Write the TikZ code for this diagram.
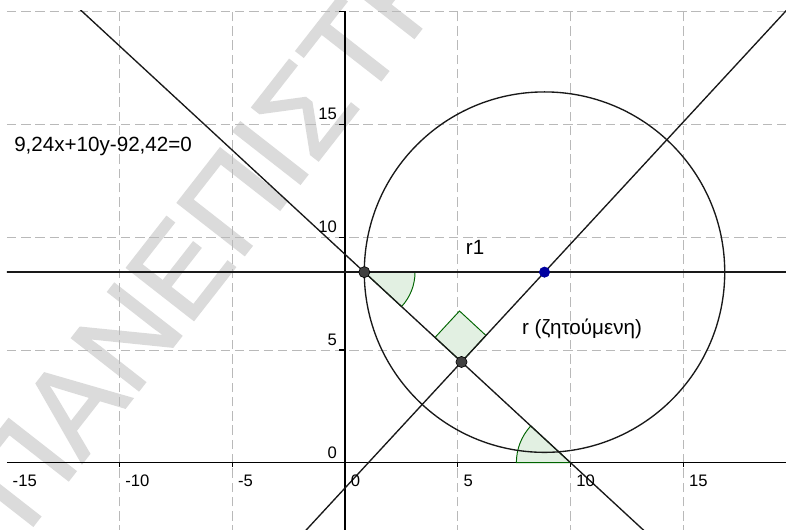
\documentclass[tikz,border=0pt]{standalone}
\usepackage{fontspec}
\setmainfont{Liberation Sans}
\newfontfamily\wmfont[FakeBold=1.5]{Liberation Sans}
\usetikzlibrary{calc}
\definecolor{gc}{RGB}{185,185,185}
\definecolor{ac}{RGB}{0,100,0}
\definecolor{af}{RGB}{226,240,226}
\definecolor{pc}{RGB}{64,64,64}
\definecolor{bc}{RGB}{0,0,160}
\definecolor{wm}{RGB}{219,219,219}
\tikzset{grd/.style={gc,line width=.5pt,dash pattern=on 6pt off 3pt},
 ax/.style={black,line width=.8pt},ln/.style={black!90,line width=.85pt},
 pt/.style={circle,draw=black,fill=pc,inner sep=0pt,minimum size=7pt},
 bpt/.style={pt,draw=bc,fill=bc,minimum size=6.5pt},
 ang/.style={draw=ac,fill=af,line width=.6pt},
 lab/.style={inner sep=0pt,font=\fontsize{13}{15}\selectfont},
 tk/.style={inner sep=0pt,font=\fontsize{10.5}{12}\selectfont}}
\begin{document}
\begin{tikzpicture}[x=.5cm,y=.5cm]
\useasboundingbox (-15.30,-2.98) rectangle (19.56,20.52);
\coordinate (A) at (0.857,8.45);
\coordinate (C) at (8.85,8.45);
\coordinate (B) at (10.002,0);
\coordinate (F) at ($(A)!(C)!(B)$);
\node[text=wm,rotate=52,anchor=west,inner sep=0pt,font=\wmfont\fontsize{78}{82}\selectfont] (wmk) at (-15.6,-2.0) {ΠΑΝΕΠΙΣΤΗΜΙΟ};
\begin{scope}
\clip (-15,-3.2) rectangle (19.8,20.05);
\foreach \x in {-10,-5,5,10,15} \draw[grd] (\x,-3.2) -- (\x,20);
\foreach \y in {5,10,15,20} \draw[grd] (-15,\y) -- (19.8,\y);
\draw[ax] (-15,0) -- (19.8,0);
\draw[ax] (0,-3.2) -- (0,20.05);
\foreach \x in {-10,-5,5,10,15} \draw[ax] (\x,0) -- (\x,-.2);
\foreach \y in {5,10,15,20} \draw[ax] (0,\y) -- (-.28,\y);
\draw[ang] (A) -- ++(0:2.25) arc[start angle=0,end angle=-42.74,radius=2.25] -- cycle;
\draw[ang] (F) -- ++(47.26:1.6) -- ++(137.26:1.6) -- ++(227.26:1.6) -- cycle;
\draw[ang] (B) -- ++(180:2.4) arc[start angle=180,end angle=137.26,radius=2.4] -- cycle;
\draw[ln] ($(A)!-1.6!(B)$) -- ($(A)!1.6!(B)$);
\draw[ln] ($(F)!-2!(C)$) -- ($(F)!4!(C)$);
\draw[ln] (A) ++(-16,0) -- ++(36,0);
\draw[ln] (C) circle[radius=7.993];
\end{scope}
\foreach \x [count=\i] in {-15,-10,-5,0,5,10,15} \node[tk,anchor=west] (xl\i) at (\x+.25,-.81) {\x};
\foreach \y [count=\i] in {0,5,10,15} \node[tk,anchor=east] (yl\i) at (-.35,\y+.45) {\y};
\node[pt] (pA) at (A) {};
\node[pt] (pF) at (F) {};
\node[bpt] (pC) at (C) {};
\node[lab,anchor=west] (eq) at (-14.68,14.04) {9,24x+10y-92,42=0};
\node[lab] (r1) at (5.77,9.55) {r1};
\node[lab] (r) at (10.51,5.92) {r (ζητούμενη)};
\end{tikzpicture}
\end{document}
